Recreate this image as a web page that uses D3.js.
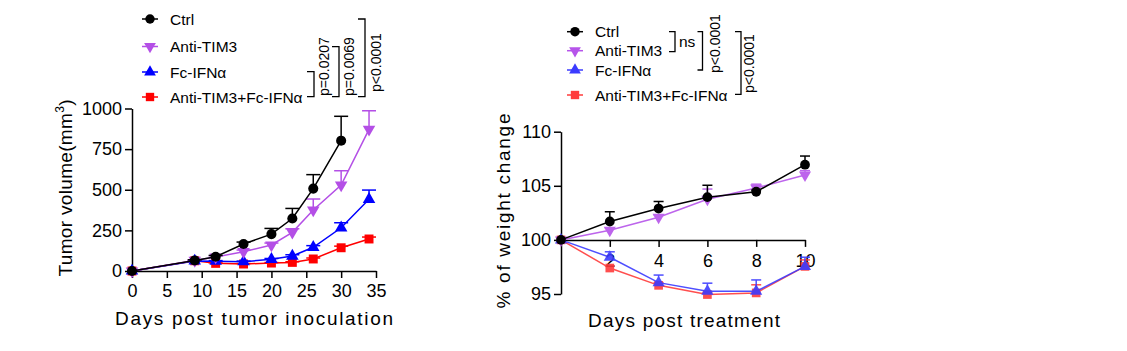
<!DOCTYPE html>
<html>
<head>
<meta charset="utf-8">
<script src="https://cdn.jsdelivr.net/npm/d3@7"></script>
<style>
  body { margin: 0; background: #fff; }
  svg text { font-family: "Liberation Sans", Arial, sans-serif; fill: #000; }
</style>
</head>
<body>
<svg id="chart" width="1127" height="351"></svg>
<script>
// groups
const groupNames = ['Ctrl', 'Anti-TIM3', 'Fc-IFNα', 'Anti-TIM3+Fc-IFNα']
const groupSymbols = ['circle', 'triangleDown', 'triangle', 'square']
const colorsLeft = ['#000000', '#b44fe6', '#0000ff', '#ff0000']
const colorsRight = ['#000000', '#b654ea', '#3b3bff', '#ff3b3b']

// tumor volume (mm3)
const tumorDays = [0, 9, 12, 16, 20, 23, 26, 30, 34]
const tumorCtrl = [0, 65, 88, 166, 227, 323, 507, 802, null]
const tumorCtrlErr = [0, 4, 8, 12, 35, 62, 86, 150, null]
const tumorTim3 = [0, 65, 86, 119, 160, 238, 375, 529, 872]
const tumorTim3Err = [0, 4, 8, 10, 12, 22, 68, 88, 114]
const tumorIfn = [0, 62, 60, 57, 72, 92, 146, 266, 441]
const tumorIfnErr = [0, 3, 4, 4, 5, 8, 10, 31, 57]
const tumorCombo = [0, 63, 47, 43, 49, 53, 74, 143, 197]
const tumorComboErr = [0, 3, 3, 3, 3, 4, 6, 10, 12]

// weight change (%)
const weightDays = [0, 2, 4, 6, 8, 10]
const weightCtrl = [100, 101.7, 102.9, 103.95, 104.45, 106.95]
const weightCtrlErr = [0, 0.9, 0.65, 1.1, 0.15, 0.8]
const weightTim3 = [100, 100.9, 102.1, 103.75, 104.8, 106.0]
const weightTim3Err = [0, 0.2, 0.2, 0.95, 0.35, 0.4]
const weightIfn = [100, 98.4, 96.05, 95.25, 95.25, 97.55]
const weightIfnErr = [0, 0.5, 0.7, 0.75, 1.05, 0.85]
const weightCombo = [100, 97.4, 95.8, 94.95, 95.1, 97.55]
const weightComboErr = [0, 0.2, 0.25, 0.2, 0.75, 0.6]

const tumorTicksY = [0, 250, 500, 750, 1000]
const tumorTicksX = [0, 5, 10, 15, 20, 25, 30, 35]
const weightTicksY = [95, 100, 105, 110]
const weightTicksX = [2, 4, 6, 8, 10]

const pLeft = ['p=0.0207', 'p=0.0069', 'p<0.0001']
const pRight = ['ns', 'p<0.0001', 'p<0.0001']

const svg = d3.select('#chart')

const symbolOf = (name, size) => {
  if (name === 'circle') return d3.symbol(d3.symbolCircle, size)()
  if (name === 'square') return d3.symbol(d3.symbolSquare, size)()
  return d3.symbol(d3.symbolTriangle, size * 0.85)()
}

const drawMarker = (g, name, x, y, color, size) => {
  g.append('path')
    .attr('d', symbolOf(name, size))
    .attr('transform', `translate(${x},${y})` + (name === 'triangleDown' ? ' rotate(180)' : ''))
    .attr('fill', color)
}

const styleAxis = (g) => {
  g.attr('font-size', null).attr('font-family', null)
  g.selectAll('path, line').attr('stroke', '#000').attr('stroke-width', 1.5)
  g.selectAll('text').attr('fill', '#000')
    .style('font-size', '18px')
    .style('font-family', '"Liberation Sans", Arial, sans-serif')
}

const drawSeries = (g, x, y, days, values, errs, color, sym, size, capW) => {
  const pts = days.map((d, i) => ({d: d, v: values[i], e: errs[i]})).filter(p => p.v !== null)
  // error bars, upward only
  pts.forEach(p => {
    if (!p.e) return
    g.append('line').attr('x1', x(p.d)).attr('x2', x(p.d))
      .attr('y1', y(p.v)).attr('y2', y(p.v + p.e))
      .attr('stroke', color).attr('stroke-width', 1.5)
    g.append('line').attr('x1', x(p.d) - capW / 2).attr('x2', x(p.d) + capW / 2)
      .attr('y1', y(p.v + p.e)).attr('y2', y(p.v + p.e))
      .attr('stroke', color).attr('stroke-width', 1.5)
  })
  g.append('path')
    .datum(pts)
    .attr('fill', 'none')
    .attr('stroke', color)
    .attr('stroke-width', 1.5)
    .attr('d', d3.line().x(p => x(p.d)).y(p => y(p.v)))
  pts.forEach(p => drawMarker(g, sym, x(p.d), y(p.v), color, size))
}

const drawLegend = (g, x0, ys, colors) => {
  groupNames.forEach((name, i) => {
    g.append('line').attr('x1', x0 - 8).attr('x2', x0 + 8)
      .attr('y1', ys[i]).attr('y2', ys[i])
      .attr('stroke', colors[i]).attr('stroke-width', 1.5)
    drawMarker(g, groupSymbols[i], x0, ys[i], colors[i], 70)
    g.append('text').attr('x', x0 + 20).attr('y', ys[i])
      .attr('dy', '0.36em')
      .style('font-size', '15.5px')
      .text(name)
  })
}

const bracket = (g, x, yTop, yBot, tick) => {
  g.append('path')
    .attr('d', `M${x - tick},${yTop}H${x}V${yBot}H${x - tick}`)
    .attr('fill', 'none').attr('stroke', '#000').attr('stroke-width', 1.3)
}

const vText = (g, x, y, txt) => {
  g.append('text')
    .attr('transform', `translate(${x},${y}) rotate(-90)`)
    .style('font-size', '14px')
    .text(txt)
}

// ---------- left: tumor volume ----------
const left = svg.append('g')
const xL = d3.scaleLinear().domain([0, 35]).range([132, 376])
const yL = d3.scaleLinear().domain([0, 1000]).range([271, 108.5])

left.append('g').attr('transform', 'translate(0,271)')
  .call(d3.axisBottom(xL).tickValues(tumorTicksX).tickFormat(d3.format('d'))
    .tickSize(7).tickSizeOuter(0).tickPadding(6))
  .call(styleAxis)
left.append('g').attr('transform', 'translate(132,0)')
  .call(d3.axisLeft(yL).tickValues(tumorTicksY).tickFormat(d3.format('d'))
    .tickSize(7).tickSizeOuter(0).tickPadding(3))
  .call(styleAxis)

left.append('text')
  .attr('x', 254).attr('y', 325)
  .attr('text-anchor', 'middle')
  .style('font-size', '19px')
  .attr('textLength', 278).attr('lengthAdjust', 'spacing')
  .text('Days  post tumor inoculation')

const yTitleL = left.append('text')
  .attr('transform', 'translate(72,188) rotate(-90)')
  .attr('text-anchor', 'middle')
  .style('font-size', '19px')
  .attr('textLength', 177).attr('lengthAdjust', 'spacing')
yTitleL.append('tspan').text('Tumor volume(mm')
yTitleL.append('tspan').attr('dy', -8).style('font-size', '12px').text('3')
yTitleL.append('tspan').attr('dy', 8).text(')')

const tumorVals = [tumorCtrl, tumorTim3, tumorIfn, tumorCombo]
const tumorErrs = [tumorCtrlErr, tumorTim3Err, tumorIfnErr, tumorComboErr]
;[3, 2, 1, 0].forEach(i => {
  drawSeries(left.append('g'), xL, yL, tumorDays, tumorVals[i], tumorErrs[i],
    colorsLeft[i], groupSymbols[i], 80, 14)
})

drawLegend(left, 150, [19, 46.5, 72, 97], colorsLeft)
bracket(left, 314, 71.7, 96.7, 7)
bracket(left, 339, 46.7, 96.7, 7)
bracket(left, 365, 19, 96.7, 7)
vText(left, 328.5, 96, pLeft[0])
vText(left, 353.5, 96, pLeft[1])
vText(left, 380.5, 92, pLeft[2])

// ---------- right: weight change ----------
const right = svg.append('g')
const xR = d3.scaleLinear().domain([0, 10]).range([561, 805])
const yR = d3.scaleLinear().domain([95, 110]).range([294, 131.7])

right.append('g').attr('transform', `translate(0,${yR(100)})`)
  .call(d3.axisBottom(xR).tickValues(weightTicksX).tickSize(7).tickSizeOuter(0).tickPadding(7))
  .call(styleAxis)
right.append('g').attr('transform', 'translate(561,0)')
  .call(d3.axisLeft(yR).tickValues(weightTicksY).tickSize(7).tickSizeOuter(0).tickPadding(3))
  .call(styleAxis)

right.append('text')
  .attr('x', 684).attr('y', 327)
  .attr('text-anchor', 'middle')
  .style('font-size', '19px')
  .attr('textLength', 192).attr('lengthAdjust', 'spacing')
  .text('Days post  treatment')

right.append('text')
  .attr('transform', 'translate(510,211) rotate(-90)')
  .attr('text-anchor', 'middle')
  .style('font-size', '19px')
  .attr('textLength', 195).attr('lengthAdjust', 'spacing')
  .text('% of weight change')

const weightVals = [weightCtrl, weightTim3, weightIfn, weightCombo]
const weightErrs = [weightCtrlErr, weightTim3Err, weightIfnErr, weightComboErr]
;[3, 2, 1, 0].forEach(i => {
  drawSeries(right.append('g').attr('opacity', i === 0 ? 1 : 0.9), xR, yR, weightDays,
    weightVals[i], weightErrs[i], colorsRight[i], groupSymbols[i], 75, 10)
})

drawLegend(right, 575, [31.7, 50.7, 70, 95], colorsRight)
bracket(right, 675, 31.7, 51.7, 6)
right.append('text').attr('x', 679).attr('y', 47).style('font-size', '15.5px').text(pRight[0])
bracket(right, 702.5, 31.7, 70, 5)
bracket(right, 741, 31.7, 94.3, 6)
vText(right, 719.5, 73, pRight[1])
vText(right, 754, 93, pRight[2])
</script>
</body>
</html>
